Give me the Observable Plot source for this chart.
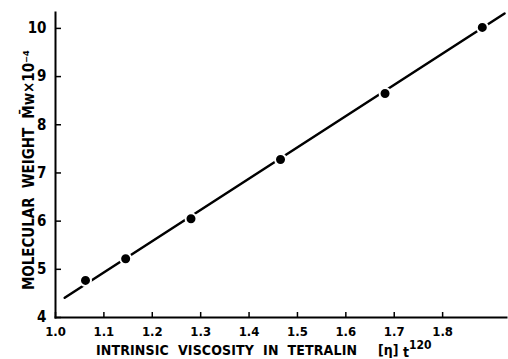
<!DOCTYPE html>
<html>
<head>
<meta charset="utf-8">
<script src="https://cdn.jsdelivr.net/npm/d3@7"></script>
<script src="https://cdn.jsdelivr.net/npm/@observablehq/plot@0.6"></script>
<style>
  html, body { margin: 0; padding: 0; background: #fff; }
  #chart svg { display: block; }
</style>
</head>
<body>
<div id="chart"></div>
<script>
// Measured points: intrinsic viscosity vs molecular weight (x 10^-4)
const viscosity = [1.062, 1.145, 1.28, 1.465, 1.681, 1.882];
const molWeight = [4.77, 5.22, 6.05, 7.28, 8.65, 10.02];
// Fitted straight line end points
const fitX = [1.019, 1.928];
const fitY = [4.41, 10.31];
// Tick values
const xTicks = [1.0, 1.1, 1.2, 1.3, 1.4, 1.5, 1.6, 1.7, 1.8];
const yTicks = [4, 5, 6, 7, 8, 9, 10];
const xTitle = "INTRINSIC  VISCOSITY  IN  TETRALIN";
const yTitle = "MOLECULAR  WEIGHT  M̄w×10⁻⁴";

const points = viscosity.map((v, i) => ({x: v, y: molWeight[i]}));
const fit = fitX.map((v, i) => ({x: v, y: fitY[i]}));

const FONT = "'DejaVu Sans Condensed', 'Liberation Sans', sans-serif";

const plot = Plot.plot({
  width: 508,
  height: 359,
  marginLeft: 55,
  marginRight: 2,
  marginTop: 12,
  marginBottom: 42,
  style: {fontFamily: FONT, fontWeight: "bold", background: "#fff", color: "#000"},
  x: {domain: [1.0, 1.932], ticks: xTicks},
  y: {domain: [4, 10.33], ticks: yTicks},
  marks: [
    Plot.frame({anchor: "left", strokeWidth: 2}),
    Plot.frame({anchor: "bottom", strokeWidth: 2}),
    Plot.axisY(yTicks, {tickSize: 6, dx: 6, tickFormat: () => "", label: null, strokeWidth: 1.5}),
    Plot.axisY(yTicks, {tickSize: 0, tickPadding: 9, label: null, fontSize: 15, tickFormat: d => String(d)}),
    Plot.axisX(xTicks, {tickSize: 5, dy: -5, tickFormat: () => "", label: null, strokeWidth: 1.5}),
    Plot.axisX(xTicks, {tickSize: 0, tickPadding: 9, label: null, fontSize: 13, tickFormat: d => d.toFixed(1)}),
    Plot.line(fit, {x: "x", y: "y", stroke: "#000", strokeWidth: 2.5}),
    Plot.dot(points, {x: "x", y: "y", r: 5.5, fill: "#000", stroke: "#fff", strokeWidth: 2})
  ]
});

document.getElementById("chart").appendChild(plot);

const svg = d3.select(plot);
// X axis title
svg.append("text")
  .attr("x", 96).attr("y", 355)
  .attr("text-anchor", "start")
  .attr("font-family", FONT).attr("font-weight", "bold").attr("font-size", 14)
  .attr("textLength", 261).attr("lengthAdjust", "spacing")
  .attr("fill", "#000")
  .text(xTitle);
const xt2 = svg.append("text")
  .attr("x", 378).attr("y", 355)
  .attr("text-anchor", "start")
  .attr("font-family", FONT).attr("font-weight", "bold").attr("font-size", 14)
  .attr("fill", "#000");
xt2.append("tspan").text("[η] ");
xt2.append("tspan").attr("dy", 2).text("t");
xt2.append("tspan").attr("dy", -8).attr("font-size", 12).text("120");

// Y axis title (rotated)
svg.append("text")
  .attr("transform", "translate(34,290) rotate(-90)")
  .attr("text-anchor", "start")
  .attr("font-family", FONT).attr("font-weight", "bold").attr("font-size", 15)
  .attr("textLength", 240).attr("lengthAdjust", "spacing")
  .attr("fill", "#000")
  .text(yTitle);
</script>
</body>
</html>
